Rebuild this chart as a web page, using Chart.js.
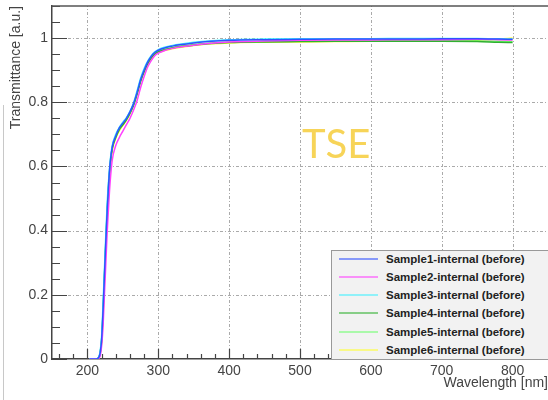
<!DOCTYPE html>
<html>
<head>
<meta charset="utf-8">
<script src="https://cdn.jsdelivr.net/npm/chart.js@4.4.0/dist/chart.umd.min.js"></script>
<style>
    body { margin: 0; background: #fff; overflow: hidden; }
    .wrap { position: relative; width: 548px; height: 400px; overflow: hidden; }
    .tse {
        position: absolute; left: 302px; top: 119px;
        font-family: Lato, sans-serif; font-size: 40px; line-height: 48px;
        color: #f7d458;
    }
    .legend {
        position: absolute; left: 331px; top: 250px; width: 230px; height: 108px;
        background: #f2f2f2; border: 1px solid #999;
    }
    .legend .row { position: absolute; left: 0; height: 14px; }
    .legend .sw { position: absolute; left: 7px; top: 6px; width: 39px; height: 2px; opacity: 0.55; }
    .legend .txt {
        position: absolute; left: 54px; top: 0; white-space: nowrap;
        font-family: "Liberation Sans", Arial, sans-serif; font-weight: bold; font-size: 11.5px;
        line-height: 14px; color: #222;
    }
</style>
</head>
<body>
<div class="wrap">
    <canvas id="chart" width="548" height="400"></canvas>
    <div class="tse">TSE</div>
    <div class="legend" id="legend"></div>
</div>
<script>
const wavelength = [203, 212, 216, 218, 220, 222, 224, 226, 228, 230, 232, 235, 240, 245, 250, 255, 260, 265, 270, 275,
                    280, 285, 290, 295, 300, 310, 320, 330, 350, 375, 400, 450, 500, 550, 600, 650, 700, 750, 780, 800];

const sample1 = [0, 0, 0.005, 0.02, 0.06, 0.15, 0.26, 0.37, 0.47, 0.55, 0.61, 0.66, 0.695, 0.72, 0.735, 0.75, 0.77, 0.795, 0.83, 0.87,
                 0.9, 0.925, 0.943, 0.955, 0.962, 0.97, 0.975, 0.979, 0.985, 0.99, 0.993, 0.995, 0.996, 0.997, 0.997, 0.997, 0.998, 0.998, 0.997, 0.996];
const sample2 = [0, 0, 0.002, 0.01, 0.04, 0.1, 0.2, 0.3, 0.4, 0.48, 0.55, 0.62, 0.665, 0.69, 0.71, 0.73, 0.75, 0.775, 0.805, 0.845,
                 0.88, 0.91, 0.93, 0.945, 0.953, 0.962, 0.968, 0.972, 0.978, 0.984, 0.988, 0.991, 0.993, 0.994, 0.994, 0.995, 0.995, 0.996, 0.995, 0.994];
const sample3 = [0, 0, 0.006, 0.025, 0.07, 0.17, 0.28, 0.39, 0.49, 0.56, 0.615, 0.665, 0.7, 0.722, 0.738, 0.752, 0.772, 0.798, 0.835, 0.875,
                 0.905, 0.928, 0.945, 0.957, 0.964, 0.972, 0.977, 0.981, 0.987, 0.992, 0.995, 0.997, 0.998, 0.998, 0.998, 0.999, 0.999, 0.999, 0.998, 0.997];
const sample4 = [0, 0, 0.004, 0.018, 0.055, 0.14, 0.25, 0.36, 0.46, 0.54, 0.6, 0.655, 0.69, 0.715, 0.73, 0.745, 0.765, 0.79, 0.825, 0.865,
                 0.895, 0.92, 0.938, 0.95, 0.957, 0.964, 0.969, 0.973, 0.978, 0.983, 0.986, 0.988, 0.989, 0.99, 0.99, 0.99, 0.99, 0.989, 0.987, 0.986];
const sample5 = [0, 0, 0.005, 0.02, 0.06, 0.15, 0.26, 0.37, 0.47, 0.55, 0.605, 0.66, 0.695, 0.718, 0.733, 0.748, 0.768, 0.793, 0.828, 0.868,
                 0.898, 0.922, 0.94, 0.952, 0.959, 0.966, 0.971, 0.975, 0.98, 0.985, 0.988, 0.99, 0.991, 0.992, 0.992, 0.992, 0.992, 0.991, 0.99, 0.989];
const sample6 = [0, 0, 0.003, 0.015, 0.05, 0.13, 0.24, 0.35, 0.45, 0.53, 0.595, 0.65, 0.688, 0.712, 0.728, 0.744, 0.764, 0.79, 0.824, 0.864,
                 0.894, 0.918, 0.936, 0.948, 0.955, 0.962, 0.967, 0.971, 0.977, 0.982, 0.985, 0.987, 0.988, 0.989, 0.99, 0.99, 0.991, 0.993, 0.997, 1.0];

const sampleNames  = ["Sample1-internal (before)", "Sample2-internal (before)", "Sample3-internal (before)",
                      "Sample4-internal (before)", "Sample5-internal (before)", "Sample6-internal (before)"];
const sampleColors = ["#3050ff", "#ff40ff", "#40f0ff", "#30b030", "#70ff70", "#ffff30"];
const samples = [sample1, sample2, sample3, sample4, sample5, sample6];

const xTicks = [200, 300, 400, 500, 600, 700, 800];
const yTicks = [0, 0.2, 0.4, 0.6, 0.8, 1];

const AXIS_FONT = { family: "'Liberation Sans', Arial, sans-serif", size: 14 };

/* dotted grid under the curves */
const grid = {
    id: "grid",
    beforeDatasetsDraw(chart) {
        const { ctx, chartArea: a, scales: { x, y } } = chart;
        ctx.save();
        ctx.strokeStyle = "#aaa";
        ctx.lineWidth = 1;
        ctx.setLineDash([3, 2, 1, 2]);
        ctx.beginPath();
        xTicks.forEach(v => {
            const px = Math.round(x.getPixelForValue(v)) + 0.5;
            ctx.moveTo(px, a.bottom); ctx.lineTo(px, a.top);
        });
        yTicks.filter(v => v > 0).forEach(v => {
            const py = Math.round(y.getPixelForValue(v)) + 0.5;
            ctx.moveTo(a.left, py); ctx.lineTo(a.right, py);
        });
        ctx.stroke();
        ctx.restore();
    }
};

/* inward major/minor tick marks + top frame, ROOT style */
const frame = {
    id: "frame",
    afterDraw(chart) {
        const { ctx, chartArea: a, scales: { x, y } } = chart;
        ctx.save();
        ctx.strokeStyle = "#444";
        ctx.lineWidth = 1.2;
        ctx.beginPath();
        for (let v = 160; v <= 840; v += 20) {
            const px = Math.round(x.getPixelForValue(v)) + 0.5;
            const len = v % 100 === 0 ? 10 : 5;
            ctx.moveTo(px, a.bottom); ctx.lineTo(px, a.bottom - len);
        }
        for (let i = 0; i <= 22; i++) {
            const v = i * 0.05;
            const py = Math.round(y.getPixelForValue(v)) + 0.5;
            const len = i % 4 === 0 ? 15 : 8;
            ctx.moveTo(a.left, py); ctx.lineTo(a.left + len, py);
        }
        ctx.stroke();
        ctx.strokeStyle = "#555";
        ctx.lineWidth = 1.5;
        ctx.beginPath();
        ctx.moveTo(a.left, a.top); ctx.lineTo(a.right, a.top);
        ctx.stroke();
        // faint page edge on the far left
        ctx.strokeStyle = "#c8c8c8";
        ctx.lineWidth = 1;
        ctx.beginPath();
        ctx.moveTo(3.5, 105); ctx.lineTo(3.5, 400);
        ctx.stroke();
        ctx.restore();
    }
};

new Chart(document.getElementById("chart"), {
    type: "line",
    data: {
        datasets: samples.map((s, i) => ({
            label: sampleNames[i],
            data: wavelength.map((w, j) => ({ x: w, y: s[j] })),
            borderColor: sampleColors[i],
            borderWidth: 1.5,
            pointRadius: 0,
            cubicInterpolationMode: "monotone",
            fill: false,
        }))
    },
    options: {
        responsive: false,
        animation: false,
        layout: { padding: { top: 6, right: 0, left: 0, bottom: 0 } },
        plugins: { legend: { display: false }, tooltip: { enabled: false } },
        scales: {
            x: {
                type: "linear", min: 150, max: 850,
                afterBuildTicks: s => { s.ticks = xTicks.map(v => ({ value: v })); },
                afterFit: s => { s.height = 41; s.paddingLeft = 0; s.paddingRight = 0; },
                grid: { display: false, drawTicks: false },
                border: { display: true, color: "#444", width: 1.5 },
                ticks: { font: AXIS_FONT, color: "#444", padding: 4, maxRotation: 0, callback: v => String(v) },
                title: { display: true, text: "Wavelength [nm]", align: "end", font: AXIS_FONT, color: "#444", padding: { top: 0, bottom: 8 } }
            },
            y: {
                type: "linear", min: 0, max: 1.1,
                afterBuildTicks: s => { s.ticks = yTicks.map(v => ({ value: v })); },
                afterFit: s => { s.width = 52; s.paddingTop = 0; s.paddingBottom = 0; },
                grid: { display: false, drawTicks: false },
                border: { display: true, color: "#444", width: 1.5 },
                ticks: { font: AXIS_FONT, color: "#444", padding: 4, callback: v => String(+v.toFixed(2)) },
                title: { display: true, text: "Transmittance [a.u.]", align: "end", font: AXIS_FONT, color: "#444", padding: { top: 8, bottom: 0 } }
            }
        }
    },
    plugins: [grid, frame]
});

/* legend box inside the plot */
const legend = document.getElementById("legend");
sampleNames.forEach((name, i) => {
    const row = document.createElement("div");
    row.className = "row";
    row.style.top = (0.5 + 18.3 * i) + "px";
    row.innerHTML = `<div class="sw" style="background:${sampleColors[i]}"></div><div class="txt">${name}</div>`;
    legend.appendChild(row);
});
</script>
</body>
</html>
